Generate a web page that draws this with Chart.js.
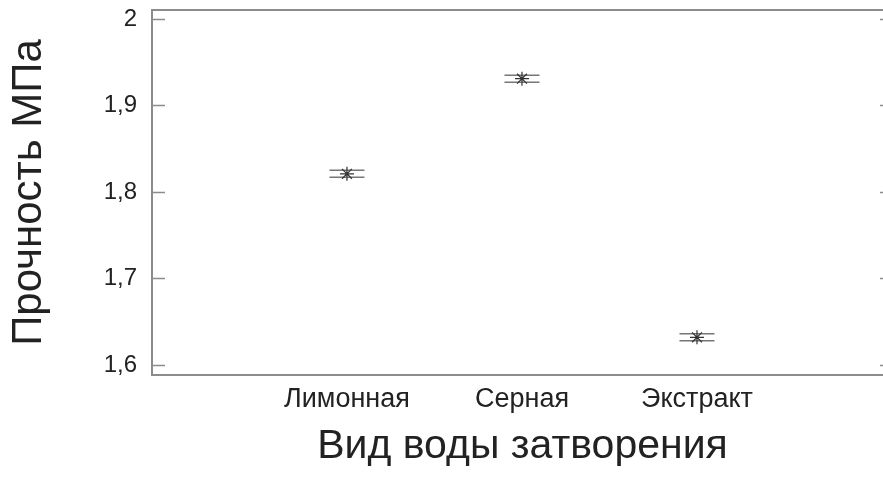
<!DOCTYPE html>
<html>
<head>
<meta charset="utf-8">
<script src="https://cdn.jsdelivr.net/npm/chart.js@4.4.0/dist/chart.umd.min.js"></script>
<style>
  html, body { margin: 0; padding: 0; background: #fff; overflow: hidden; }
  #canvas { position: absolute; left: 0; top: 0; }
</style>
</head>
<body>
<canvas id="canvas" width="894" height="477"></canvas>
<script>
const categories = ['Лимонная', 'Серная', 'Экстракт'];
const means = [1.821, 1.931, 1.632];
const upper = [1.825, 1.935, 1.636];
const lower = [1.817, 1.927, 1.628];
const yTickValues = [1.6, 1.7, 1.8, 1.9, 2.0];
const yTickLabels = ['1,6', '1,7', '1,8', '1,9', '2'];

const FONT = "'Liberation Sans', Arial, sans-serif";
const AXIS_COLOR = '#8c8c8c';

// short horizontal bars for upper / lower bound, gaps between categories
function boundLine(vals) {
  const pts = [];
  vals.forEach((v, i) => {
    pts.push({x: i + 1 - 0.1, y: v});
    pts.push({x: i + 1 + 0.1, y: v});
    pts.push({x: i + 1.5, y: null});
  });
  return pts;
}

// box around plot with inward ticks on left and right
const frame = {
  id: 'frame',
  afterDraw(chart) {
    const ctx = chart.ctx;
    const a = chart.chartArea;
    const y = chart.scales.y;
    ctx.save();
    ctx.strokeStyle = AXIS_COLOR;
    ctx.lineWidth = 2;
    ctx.strokeRect(a.left, a.top, a.right - a.left, a.bottom - a.top);
    ctx.beginPath();
    yTickValues.forEach(v => {
      const py = Math.round(y.getPixelForValue(v)) + 0.5;
      ctx.moveTo(a.left, py); ctx.lineTo(a.left + 13, py);
      ctx.moveTo(a.right, py); ctx.lineTo(a.right - 13, py);
    });
    ctx.lineWidth = 1.5;
    ctx.stroke();
    ctx.restore();
  }
};

const data = {
  datasets: [
    {
      type: 'scatter',
      data: means.map((v, i) => ({x: i + 1, y: v})),
      pointStyle: 'star',
      radius: 7,
      borderColor: '#333',
      borderWidth: 1.2,
    },
    {
      type: 'line',
      data: boundLine(upper),
      borderColor: '#777',
      borderWidth: 1.5,
      pointRadius: 0,
      spanGaps: false,
    },
    {
      type: 'line',
      data: boundLine(lower),
      borderColor: '#777',
      borderWidth: 1.5,
      pointRadius: 0,
      spanGaps: false,
    },
  ],
};

const config = {
  data: data,
  plugins: [frame],
  options: {
    responsive: false,
    animation: false,
    layout: { autoPadding: false, padding: { top: 10, right: 1, left: 0, bottom: 0 } },
    plugins: { legend: { display: false }, tooltip: { enabled: false } },
    scales: {
      x: {
        type: 'linear',
        min: -0.114,
        max: 4.12,
        afterBuildTicks: s => { s.ticks = categories.map((c, i) => ({value: i + 1})); },
        afterFit: s => { s.height = 102; s.paddingLeft = 0; s.paddingRight = 0; },
        grid: { display: false, drawTicks: false },
        border: { display: false },
        ticks: {
          padding: 8,
          color: '#222',
          font: { family: FONT, size: 27 },
          callback: v => categories[v - 1] || '',
          maxRotation: 0,
        },
        title: {
          display: true,
          text: 'Вид воды затворения',
          color: '#222',
          font: { family: FONT, size: 41 },
          padding: { top: 0, bottom: 6 },
        },
      },
      y: {
        min: 1.5884,
        max: 2.0104,
        afterBuildTicks: s => { s.ticks = yTickValues.map(v => ({value: v})); },
        afterFit: s => { s.width = 152; s.paddingTop = 0; s.paddingBottom = 0; },
        grid: { display: false, drawTicks: false },
        border: { display: false },
        ticks: {
          padding: 15,
          color: '#222',
          font: { family: FONT, size: 24 },
          callback: (v, i) => yTickLabels[i],
        },
        title: {
          display: true,
          text: 'Прочность МПа',
          color: '#222',
          font: { family: FONT, size: 42 },
          padding: { top: 4, bottom: 0 },
        },
      },
    },
  },
};

const canvas = document.getElementById('canvas');
const chart = new Chart(canvas, config);
</script>
</body>
</html>
